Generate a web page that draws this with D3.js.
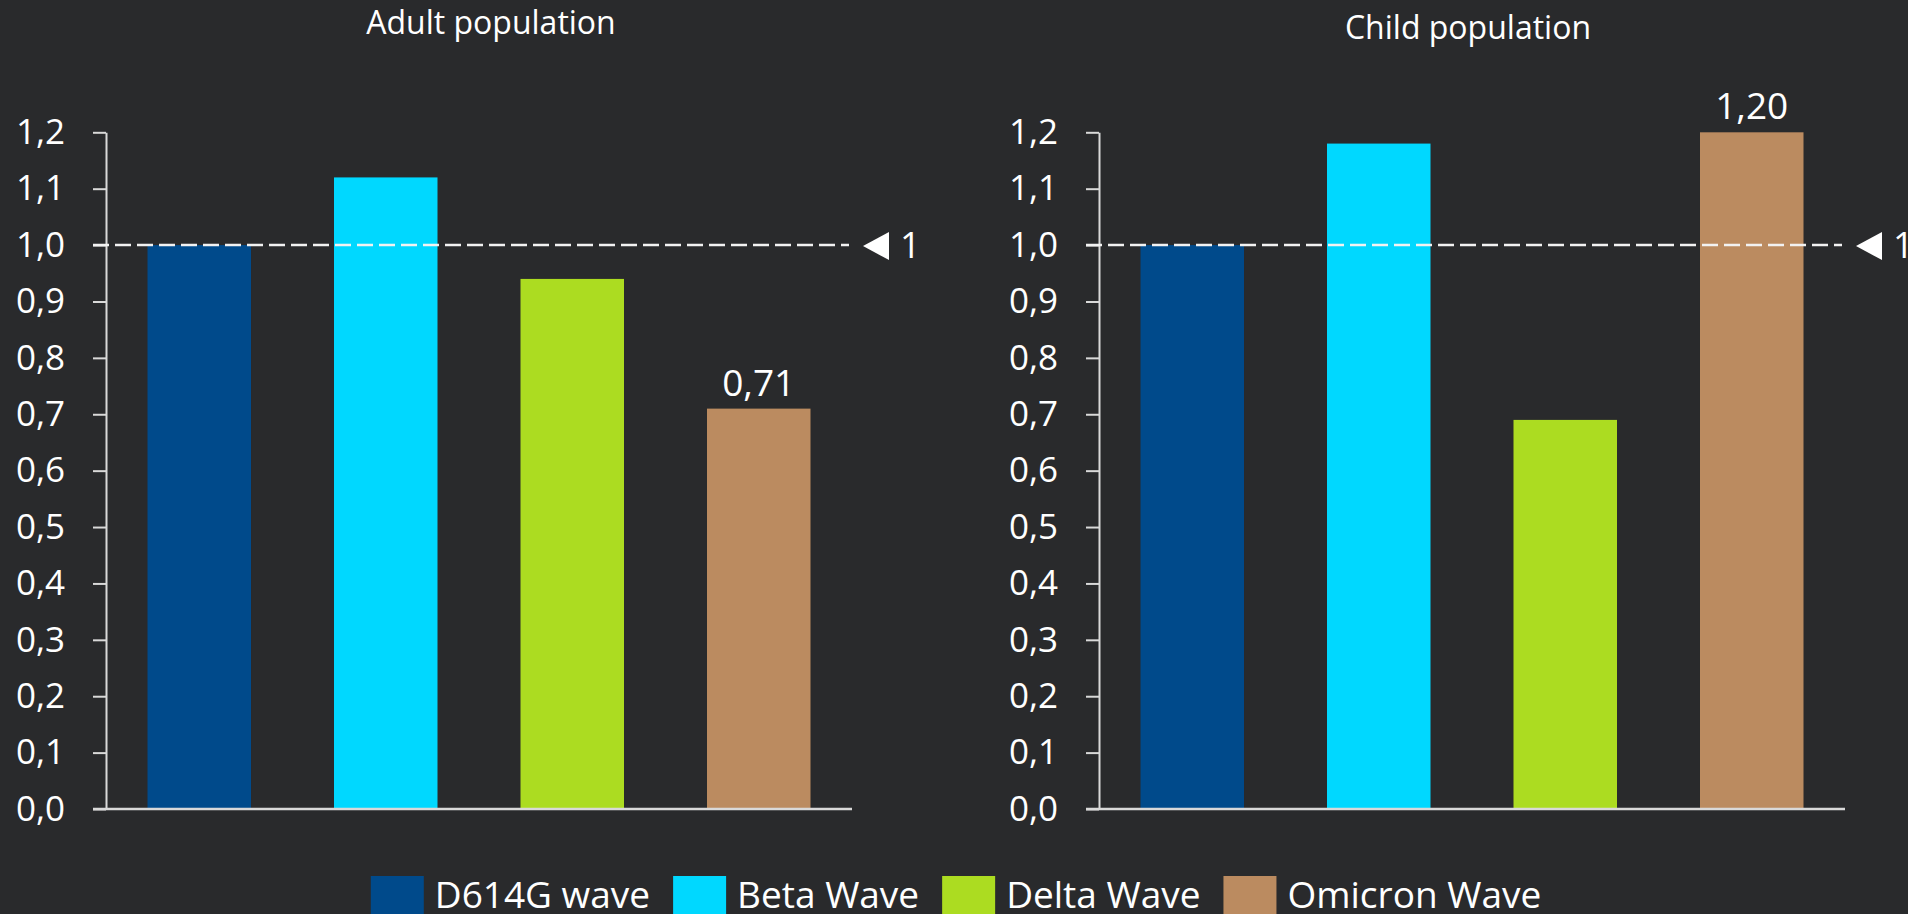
<!DOCTYPE html>
<html>
<head>
<meta charset="utf-8">
<script src="https://cdn.jsdelivr.net/npm/d3@7"></script>
<style>
  html, body { margin: 0; padding: 0; background: #292a2c; overflow: hidden; }
  text { font-family: "Open Sans", "Noto Sans", sans-serif; fill: #fff; }
</style>
</head>
<body>
<svg width="1908" height="914"></svg>
<script>
// data
var waves = ["D614G wave", "Beta Wave", "Delta Wave", "Omicron Wave"];
var waveColors = ["#004a8b", "#00d8ff", "#acdc21", "#bb8b60"];
var adultValues = [1.00, 1.12, 0.94, 0.71];
var childValues = [1.00, 1.18, 0.69, 1.20];
var yTicks = [0, 0.1, 0.2, 0.3, 0.4, 0.5, 0.6, 0.7, 0.8, 0.9, 1.0, 1.1, 1.2];
var refValue = 1;

var svg = d3.select("svg"),
    width = +svg.attr("width"),
    height = +svg.attr("height");

var comma = function(v, digits) {
  return d3.format("." + digits + "f")(v).replace(".", ",");
};

var y = d3.scaleLinear().domain([0, 1.2]).range([809, 132.3]);

function drawPanel(title, values, x0, titleY, titleShift, labelIdx) {
  var x = d3.scaleBand()
      .domain(waves)
      .range([x0, x0 + 746])
      .paddingInner(0.445)
      .paddingOuter(0.2225);

  var g = svg.append("g");

  // title
  g.append("text")
      .attr("x", x0 + 373 + titleShift)
      .attr("y", titleY)
      .attr("text-anchor", "middle")
      .attr("font-size", "32px")
      .text(title);

  // bars
  g.selectAll("rect")
    .data(values)
    .enter().append("rect")
      .attr("x", function(d, i) { return x(waves[i]); })
      .attr("y", function(d) { return y(d); })
      .attr("width", x.bandwidth())
      .attr("height", function(d) { return y(0) - y(d); })
      .attr("fill", function(d, i) { return waveColors[i]; });

  // y axis
  var yAxis = d3.axisLeft(y)
      .tickValues(yTicks)
      .tickSize(13)
      .tickSizeOuter(0)
      .tickPadding(28)
      .tickFormat(function(d) { return comma(d, 1); });

  var ax = g.append("g")
      .attr("transform", "translate(" + x0 + ",0)")
      .call(yAxis);
  ax.select(".domain").attr("stroke", "#d9d9d9").attr("stroke-width", 2);
  ax.selectAll(".tick line").attr("stroke", "#d9d9d9").attr("stroke-width", 2);
  ax.selectAll(".tick text")
      .attr("fill", "#fff")
      .attr("font-size", "35px")
      .attr("font-family", "'Open Sans', sans-serif");

  // baseline
  g.append("line")
      .attr("x1", x0 - 13)
      .attr("x2", x.range()[1])
      .attr("y1", y(0))
      .attr("y2", y(0))
      .attr("stroke", "#d9d9d9")
      .attr("stroke-width", 2.5);

  // reference line at 1
  g.append("line")
      .attr("x1", x0 - 13)
      .attr("x2", x.range()[1] - 3)
      .attr("y1", y(refValue))
      .attr("y2", y(refValue))
      .attr("stroke", "#f2f2f2")
      .attr("stroke-width", 2.5)
      .attr("stroke-dasharray", "16,6");

  var tx = x.range()[1] + 11, ty = y(refValue) + 1;
  g.append("path")
      .attr("d", "M" + tx + "," + ty + "L" + (tx + 26) + "," + (ty - 14) + "L" + (tx + 26) + "," + (ty + 14) + "Z")
      .attr("fill", "#fff");
  g.append("text")
      .attr("x", tx + 37)
      .attr("y", y(refValue) + 13)
      .attr("font-size", "36px")
      .text(refValue);

  // value label
  g.append("text")
      .attr("x", x(waves[labelIdx]) + x.bandwidth() / 2)
      .attr("y", y(values[labelIdx]) - 13)
      .attr("text-anchor", "middle")
      .attr("font-size", "37px")
      .text(comma(values[labelIdx], 2));
}

drawPanel("Adult population", adultValues, 106, 34, 12, 3);
drawPanel("Child population", childValues, 1099, 39, -4, 3);

// legend
var legend = svg.append("g");
var items = legend.selectAll("g")
    .data(waves)
    .enter().append("g");
items.append("rect")
    .attr("width", 53)
    .attr("height", 44)
    .attr("y", 876)
    .attr("fill", function(d, i) { return waveColors[i]; });
items.append("text")
    .attr("x", 64)
    .attr("y", 908)
    .attr("font-size", "37px")
    .text(function(d) { return d; });

var offs = [], cur = 0;
items.each(function() {
  var w = d3.select(this).select("text").node().getComputedTextLength();
  offs.push(cur);
  cur += 64 + w + 23;
});
var total = cur - 23;
var lx = 956 - total / 2;
items.attr("transform", function(d, i) { return "translate(" + (lx + offs[i]) + ",0)"; });
</script>
</body>
</html>
